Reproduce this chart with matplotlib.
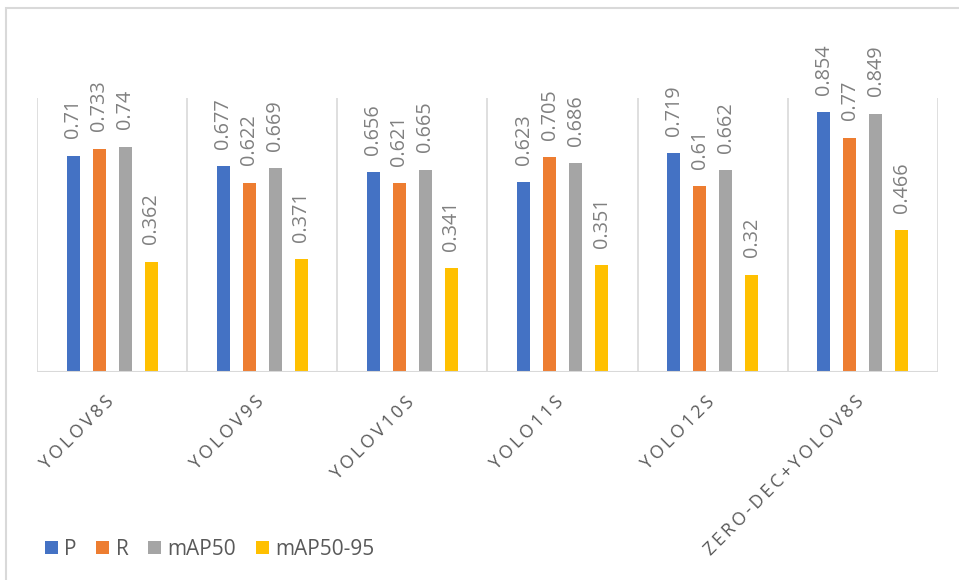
import matplotlib
matplotlib.use("Agg")
import matplotlib.pyplot as plt
import numpy as np
from matplotlib.patches import Rectangle

plt.rcParams['font.family'] = ['Open Sans', 'DejaVu Sans']

models = ["YOLOV8S", "YOLOV9S", "YOLOV10S", "YOLO11S", "YOLO12S", "ZERO-DEC+YOLOV8S"]
series_names = ["P", "R", "mAP50", "mAP50-95"]
p_vals = [0.71, 0.677, 0.656, 0.623, 0.719, 0.854]
r_vals = [0.733, 0.622, 0.621, 0.705, 0.61, 0.77]
map50_vals = [0.74, 0.669, 0.665, 0.686, 0.662, 0.849]
map5095_vals = [0.362, 0.371, 0.341, 0.351, 0.32, 0.466]
colors = ["#4472C4", "#ED7D31", "#A5A5A5", "#FFC000"]

W, H = 959, 580
fig = plt.figure(figsize=(W / 100, H / 100), dpi=100)
fig.patch.set_facecolor("white")

# chart-area border (top and left edges visible)
fig.patches.append(Rectangle((6 / W, -0.1), 1.2, 1.1 - 8 / H,
                             transform=fig.transFigure, fill=False,
                             edgecolor="#d9d9d9", linewidth=1.5))

left, right, top, bottom = 37, 938, 98, 372
ax = fig.add_axes([left / W, 1 - bottom / H, (right - left) / W, (bottom - top) / H])

n = len(models)
x = np.arange(n)
bar_w = 0.087
step = 0.1733
offsets = (np.arange(4) - 1.5) * step

all_series = [p_vals, r_vals, map50_vals, map5095_vals]
for i, (name, vals, c) in enumerate(zip(series_names, all_series, colors)):
    ax.bar(x + offsets[i], vals, width=bar_w, color=c, label=name, zorder=3)
    for xi, v in zip(x + offsets[i], vals):
        ax.annotate(f"{v:g}", (xi, v), xytext=(0, 12.5), textcoords="offset points",
                    rotation=90, ha="center", va="bottom", fontsize=14.3,
                    color="#808080", annotation_clip=False)

ax.set_xlim(-0.5, n - 0.5)
ax.set_ylim(0, 0.9)
for b in np.arange(n + 1) - 0.5:
    ax.axvline(b, color="#d9d9d9", linewidth=1.2, zorder=1)
ax.axhline(0, color="#d9d9d9", linewidth=1.5, zorder=4)
for s in ax.spines.values():
    s.set_visible(False)
ax.set_yticks([])
ax.set_xticks([])

# spaced, rotated category labels
for xi, m in zip(x, models):
    spaced = "\u2009".join(m)
    ax.annotate(spaced, (xi, 0), xytext=(-1, -19.5), textcoords="offset points",
                rotation=45, rotation_mode="anchor", ha="right", va="center",
                fontsize=12.8, color="#595959", annotation_clip=False)

fig.legend(loc="lower left", bbox_to_anchor=(45 / W, 1 - 560 / H), ncol=4,
           frameon=False, fontsize=15, handlelength=0.62, handleheight=0.62,
           handletextpad=0.3, columnspacing=0.95, labelcolor="#595959",
           borderaxespad=0, borderpad=0)

fig.savefig("out.png", dpi=100, facecolor="white")
